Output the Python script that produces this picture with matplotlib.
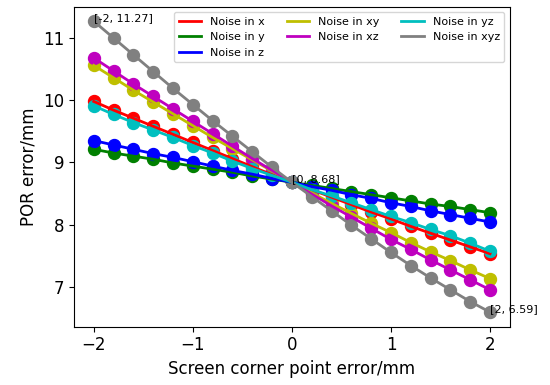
import matplotlib
matplotlib.use("Agg")
from matplotlib import pyplot

# Screen corner point error (mm)
err = [-2.0, -1.8, -1.6, -1.4, -1.2, -1.0, -0.8, -0.6, -0.4, -0.2, 0.0,
       0.2, 0.4, 0.6, 0.8, 1.0, 1.2, 1.4, 1.6, 1.8, 2.0]

# POR error (mm) for each noise case
por_x = [9.98, 9.84, 9.71, 9.58, 9.45, 9.32, 9.19, 9.06, 8.93, 8.80, 8.68,
         8.56, 8.44, 8.32, 8.20, 8.09, 7.97, 7.86, 7.75, 7.64, 7.53]
por_y = [9.21, 9.15, 9.10, 9.05, 8.99, 8.94, 8.89, 8.84, 8.78, 8.73, 8.68,
         8.63, 8.58, 8.53, 8.48, 8.43, 8.38, 8.33, 8.29, 8.24, 8.19]
por_z = [9.35, 9.28, 9.21, 9.14, 9.08, 9.01, 8.94, 8.87, 8.81, 8.74, 8.68,
         8.61, 8.55, 8.48, 8.42, 8.35, 8.29, 8.22, 8.16, 8.10, 8.04]
por_xy = [10.56, 10.36, 10.16, 9.97, 9.78, 9.59, 9.40, 9.22, 9.04, 8.86, 8.68,
          8.51, 8.34, 8.18, 8.02, 7.87, 7.71, 7.56, 7.42, 7.27, 7.13]
por_xz = [10.68, 10.47, 10.26, 10.06, 9.86, 9.66, 9.46, 9.26, 9.06, 8.87, 8.68,
          8.49, 8.30, 8.12, 7.94, 7.76, 7.60, 7.43, 7.27, 7.11, 6.95]
por_yz = [9.91, 9.77, 9.64, 9.52, 9.40, 9.27, 9.15, 9.02, 8.90, 8.79, 8.68,
          8.56, 8.46, 8.35, 8.24, 8.13, 8.03, 7.92, 7.82, 7.70, 7.57]
por_xyz = [11.27, 11.00, 10.73, 10.46, 10.19, 9.93, 9.67, 9.42, 9.17, 8.92, 8.68,
           8.45, 8.22, 7.99, 7.77, 7.55, 7.34, 7.14, 6.95, 6.76, 6.59]

labels = ["Noise in x", "Noise in y", "Noise in z", "Noise in xy",
          "Noise in xz", "Noise in yz", "Noise in xyz"]
colors = ["r", "g", "b", "y", "m", "c", "gray"]
series = [por_x, por_y, por_z, por_xy, por_xz, por_yz, por_xyz]

fig = pyplot.figure(figsize=(5.5, 3.85), dpi=100)
ax = fig.add_axes([0.1345, 0.1514, 0.7925, 0.8312])

# markers first, lines on top of them
for vals, c in zip(series, colors):
    ax.plot(err, vals, "o", color=c, markersize=8.6)
for vals, c, lab in zip(series, colors, labels):
    ax.plot(err, vals, "-", color=c, linewidth=2, label=lab)

# label the end points and the centre point of the xyz curve
for i in [0, 10, 20]:
    ax.text(err[i], por_xyz[i], "[%g, %.2f]" % (err[i], por_xyz[i]), fontsize=8)

ax.legend(loc="upper right", ncol=3, fontsize=8)
ax.tick_params(labelsize=12)
ax.set_xlabel("Screen corner point error/mm", fontsize=12)
ax.set_ylabel("POR error/mm", fontsize=12)

pyplot.savefig("out.png", dpi=100)
